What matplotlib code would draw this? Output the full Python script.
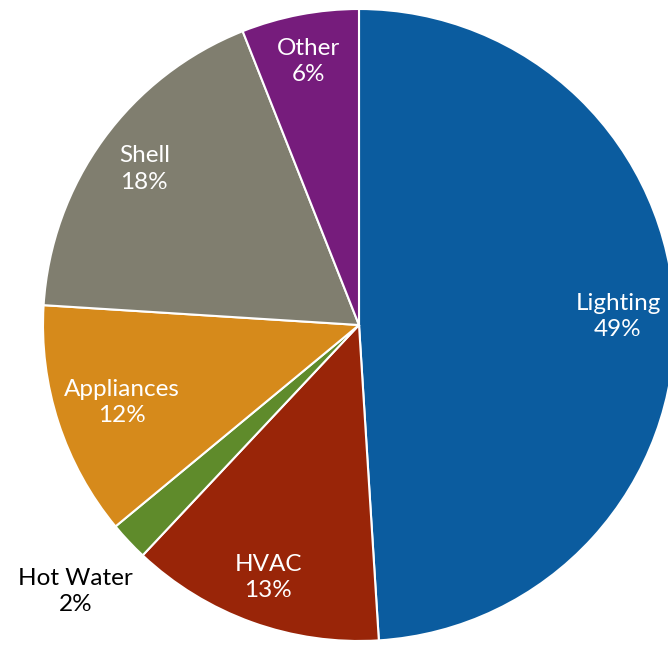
import numpy as np
import matplotlib.pyplot as plt

plt.rcParams['font.family'] = ['Lato', 'DejaVu Sans']

categories = ['Lighting', 'HVAC', 'Hot Water', 'Appliances', 'Shell', 'Other']
shares = [49, 13, 2, 12, 18, 6]
colors = ['#0B5C9F', '#992508', '#5F8B2B', '#D68A1B', '#807E6F', '#761C7C']
text_colors = ['white', 'white', 'black', 'white', 'white', 'white']
label_dist = [0.82, 0.85, 1.23, 0.79, 0.84, 0.85]

fig = plt.figure(figsize=(6.68, 6.45), dpi=100)
ax = fig.add_axes([0, 0, 1, 1])

cx, cy, R = 359, 320, 316
wedges, _ = ax.pie(shares, colors=colors, startangle=90, counterclock=False,
                   radius=R, center=(cx, cy),
                   wedgeprops=dict(edgecolor='white', linewidth=1.5))

for w, name, val, tc, d in zip(wedges, categories, shares, text_colors, label_dist):
    ang = np.deg2rad((w.theta1 + w.theta2) / 2)
    x = cx + d * R * np.cos(ang)
    y = cy + d * R * np.sin(ang)
    ax.text(x, y, f'{name}\n{val}%', ha='center', va='center', color=tc,
            fontsize=17.5, linespacing=1.3)

ax.set_xlim(0, 668)
ax.set_ylim(0, 645)
ax.set_aspect('equal')
ax.axis('off')

fig.savefig('out.png', dpi=100)
